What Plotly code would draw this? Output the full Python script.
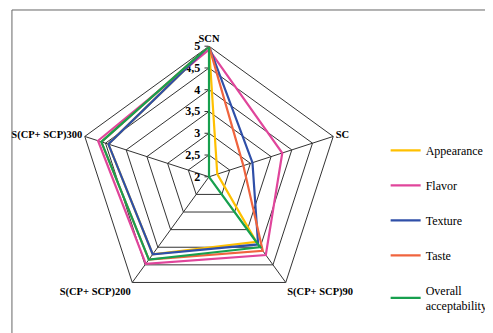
import plotly.graph_objects as go

categories = ["SCN", "SC", "S(CP+ SCP)90", "S(CP+ SCP)200", "S(CP+ SCP)300"]
appearance = [5.0, 2.2, 3.85, 4.2, 4.43]
flavor = [4.92, 3.77, 4.22, 4.47, 4.68]
texture = [5.0, 3.05, 3.92, 4.2, 4.43]
taste = [5.0, 2.83, 4.1, 4.35, 4.6]
overall = [5.0, 2.0, 4.0, 4.35, 4.6]
tick_vals = [2, 2.5, 3, 3.5, 4, 4.5, 5]
tick_text = ["2", "2,5", "3", "3,5", "4", "4,5", "5"]

series = [
    ("Appearance", appearance, "#FFC000"),
    ("Flavor", flavor, "#E0459B"),
    ("Texture", texture, "#2F4FA8"),
    ("Taste", taste, "#F0643E"),
    ("Overall<br>acceptability", overall, "#17A04E"),
]

fig = go.Figure()
for name, vals, col in series:
    fig.add_trace(go.Scatterpolar(
        r=vals + vals[:1], theta=categories + categories[:1],
        mode="lines", name=name, legendgroup=name,
        line=dict(color=col, width=2.2),
    ))

W, H = 493, 333
cx, cy, R = 201.0, 168.8, 130.6
bold_ang = dict(size=10.5, family="Liberation Serif", color="black", weight="bold")
bold_rad = dict(size=12, family="Liberation Serif", color="black", weight="bold")
fig.update_layout(
    width=W, height=H, autosize=False,
    margin=dict(l=0, r=0, t=0, b=0, autoexpand=False),
    paper_bgcolor="white", plot_bgcolor="white",
    font=dict(family="Liberation Serif", color="black"),
    polar=dict(
        domain=dict(x=[(cx - R) / W, (cx + R) / W], y=[(H - cy - R) / H, (H - cy + R) / H]),
        gridshape="linear",
        bgcolor="white",
        angularaxis=dict(direction="clockwise", rotation=90, showline=True,
                         linecolor="#333", linewidth=1, gridcolor="#333", gridwidth=1,
                         ticks="", tickfont=bold_ang, layer="below traces"),
        radialaxis=dict(range=[2, 5], tickvals=tick_vals, ticktext=tick_text, angle=90,
                        tickangle=90, showline=True, linecolor="#333", linewidth=1,
                        gridcolor="#333", gridwidth=1, ticks="outside", ticklen=4,
                        tickcolor="#333", side="counterclockwise",
                        tickfont=bold_rad, layer="below traces"),
    ),
    legend=dict(x=0.766, y=0.616, xanchor="left", yanchor="top",
                font=dict(size=12, family="Liberation Serif", color="black"),
                tracegroupgap=16, itemwidth=30),
    shapes=[dict(type="rect", xref="paper", yref="paper", x0=0.008, x1=0.996, y0=0.006, y1=0.994,
                 line=dict(color="#666", width=1))],
)
fig.write_html("out.html")
